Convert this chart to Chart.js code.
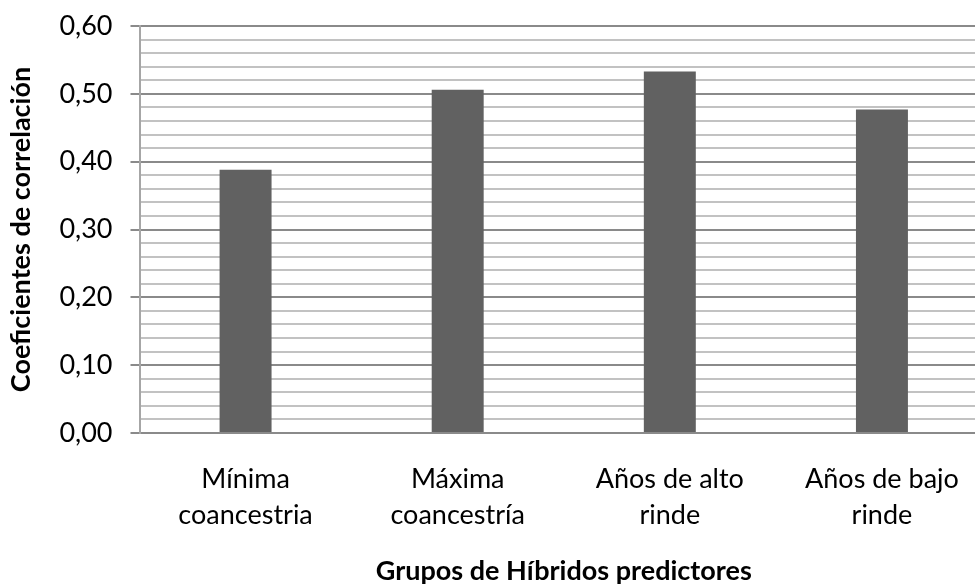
<!DOCTYPE html>
<html>
<head>
<meta charset="utf-8">
<script src="https://cdn.jsdelivr.net/npm/chart.js@4/dist/chart.umd.min.js"></script>
<style>
  html, body { margin: 0; padding: 0; background: #fff; overflow: hidden; }
  #wrap { position: relative; width: 990px; height: 585px; }
</style>
</head>
<body>
<div id="wrap"><canvas id="chart"></canvas></div>
<script>
// Correlation coefficients by group of predictor hybrids
const categories = [
  ['Mínima', 'coancestria'],
  ['Máxima', 'coancestría'],
  ['Años de alto', 'rinde'],
  ['Años de bajo', 'rinde']
];
const coeficientes = [0.388, 0.506, 0.533, 0.477];
const yMin = 0;
const yMax = 0.6;
const yStep = 0.02;      // minor grid spacing
const yLabelStep = 0.1;  // labelled (major) ticks
const yTitle = 'Coeficientes de correlación';
const xTitle = 'Grupos de Híbridos predictores';

const FONT = 'Lato, "Open Sans", "Liberation Sans", sans-serif';

function isMajor(v) {
  const r = v / yLabelStep;
  return Math.abs(r - Math.round(r)) < 1e-6;
}

new Chart(document.getElementById('chart'), {
  type: 'bar',
  data: {
    labels: categories,
    datasets: [{
      data: coeficientes,
      backgroundColor: '#616161',
      borderWidth: 0,
      categoryPercentage: 1,
      barPercentage: 0.245
    }]
  },
  options: {
    responsive: true,
    maintainAspectRatio: false,
    animation: false,
    layout: { padding: { top: 0, right: 2, left: 5, bottom: 0 } },
    plugins: { legend: { display: false }, tooltip: { enabled: false } },
    scales: {
      x: {
        grid: { display: false, drawTicks: false },
        border: { display: false },
        afterFit: (scale) => { scale.height = 152; },
        ticks: {
          color: '#000',
          padding: 28,
          maxRotation: 0,
          autoSkip: false,
          font: { family: FONT, size: 27, lineHeight: 1.333 }
        },
        title: {
          display: true,
          text: xTitle,
          color: '#000',
          padding: { top: 25, bottom: 0 },
          font: { family: FONT, size: 27, weight: 'bold', lineHeight: 1 }
        }
      },
      y: {
        min: yMin,
        max: yMax,
        afterFit: (scale) => { scale.paddingTop = 26; },
        ticks: {
          stepSize: yStep,
          color: '#000',
          padding: 18,
          autoSkip: false,
          font: { family: FONT, size: 27 },
          callback: (v) => isMajor(v) ? v.toFixed(2).replace('.', ',') : ''
        },
        grid: {
          lineWidth: 2,
          tickLength: 9,
          color: (ctx) => (ctx.tick && isMajor(ctx.tick.value)) ? '#8a8a8a' : '#c2c2c2',
          tickColor: (ctx) => (ctx.tick && isMajor(ctx.tick.value)) ? '#8a8a8a' : 'rgba(0,0,0,0)'
        },
        border: { display: true, color: '#a6a6a6', width: 2 },
        title: {
          display: true,
          text: yTitle,
          color: '#000',
          padding: { top: 0, bottom: 4 },
          font: { family: FONT, size: 27, weight: 'bold' }
        }
      }
    }
  }
});
</script>
</body>
</html>
